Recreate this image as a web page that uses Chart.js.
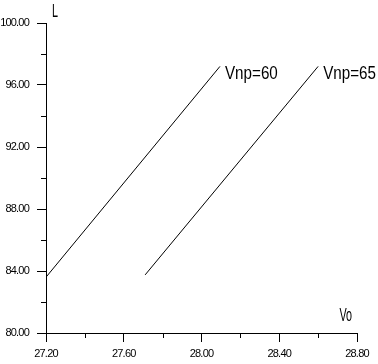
<!DOCTYPE html>
<html><head><meta charset="utf-8">
<script src="https://cdn.jsdelivr.net/npm/chart.js@4"></script>
<style>html,body{margin:0;padding:0;background:#fff}#wrap{width:378px;height:364px;position:relative}</style>
</head><body><div id="wrap"><canvas id="c"></canvas></div>
<script>
const seriesNames = ['Vnp=60', 'Vnp=65'];
const vnp60X = [27.2, 28.095];
const vnp60Y = [83.6, 97.2];
const vnp65X = [27.71, 28.6];
const vnp65Y = [83.75, 97.2];
const xTickLabels = ['27.20', '27.60', '28.00', '28.40', '28.80'];
const yTickLabels = ['80.00', '84.00', '88.00', '92.00', '96.00', '100.00'];
const xTitle = 'Vo';
const yTitle = 'L';

const FONT = '"Liberation Sans", Arial, sans-serif';

function pts(xs, ys) { return xs.map((x, i) => ({x: x, y: ys[i]})); }

function tight(chart) { chart.ctx.letterSpacing = '-0.8px'; }

function narrowText(ctx, text, x, y, sx, align) {
  ctx.save();
  ctx.translate(x, y);
  ctx.scale(sx, 1);
  ctx.textAlign = align;
  ctx.fillText(text, 0, 0);
  ctx.restore();
}

const extras = {
  id: 'extras',
  beforeUpdate: tight,
  beforeLayout: tight,
  beforeDraw: tight,
  afterDraw(chart) {
    const ctx = chart.ctx;
    const area = chart.chartArea;
    ctx.save();
    ctx.letterSpacing = '0px';
    // minor ticks
    ctx.strokeStyle = '#000';
    ctx.lineWidth = 1;
    const xs = chart.scales.x, ys = chart.scales.y;
    xs.ticks.forEach((t, i) => {
      if (i % 2 === 1) {
        const px = Math.round(xs.getPixelForValue(t.value)) + 0.5;
        ctx.beginPath(); ctx.moveTo(px, area.bottom); ctx.lineTo(px, area.bottom + 5); ctx.stroke();
      }
    });
    ys.ticks.forEach((t, i) => {
      if (i % 2 === 1) {
        const py = Math.round(ys.getPixelForValue(t.value)) + 0.5;
        ctx.beginPath(); ctx.moveTo(area.left - 5, py); ctx.lineTo(area.left, py); ctx.stroke();
      }
    });
    // series labels
    ctx.fillStyle = '#000';
    ctx.font = '19px ' + FONT;
    ctx.textBaseline = 'top';
    chart.data.datasets.forEach((ds, i) => {
      const meta = chart.getDatasetMeta(i);
      const last = meta.data[meta.data.length - 1];
      narrowText(ctx, seriesNames[i], last.x + 5, last.y - 2, 0.8, 'left');
    });
    // axis titles
    ctx.font = '18px ' + FONT;
    narrowText(ctx, yTitle, area.left + 6, area.top - 20, 0.6, 'left');
    narrowText(ctx, xTitle, area.right - 5, area.bottom - 26, 0.6, 'right');
    ctx.restore();
  }
};

new Chart(document.getElementById('c'), {
  type: 'scatter',
  data: {
    datasets: [
      {label: seriesNames[0], data: pts(vnp60X, vnp60Y), showLine: true, borderColor: '#000', borderWidth: 1, pointRadius: 0, fill: false},
      {label: seriesNames[1], data: pts(vnp65X, vnp65Y), showLine: true, borderColor: '#000', borderWidth: 1, pointRadius: 0, fill: false}
    ]
  },
  options: {
    responsive: true,
    maintainAspectRatio: false,
    animation: false,
    events: [],
    layout: {padding: {top: 23, right: 21, left: 0, bottom: 0}},
    plugins: {legend: {display: false}, tooltip: {enabled: false}},
    scales: {
      x: {
        type: 'linear', min: 27.2, max: 28.8,
        afterFit(s) { s.height = 31; },
        border: {display: true, color: '#000', width: 1},
        grid: {display: true, drawOnChartArea: false, drawTicks: true, tickLength: 9,
               tickColor: c => (c.index % 2 === 0 ? '#000' : 'rgba(0,0,0,0)'), tickWidth: 1},
        ticks: {stepSize: 0.2, autoSkip: false, maxRotation: 0, padding: 5, color: '#000',
                font: {family: FONT, size: 11},
                callback: (v, i) => (i % 2 === 0 ? xTickLabels[i / 2] : '')}
      },
      y: {
        type: 'linear', min: 80, max: 100,
        afterFit(s) { s.width = 46; },
        border: {display: true, color: '#000', width: 1},
        grid: {display: true, drawOnChartArea: false, drawTicks: true, tickLength: 9,
               tickColor: c => (c.index % 2 === 0 ? '#000' : 'rgba(0,0,0,0)'), tickWidth: 1},
        ticks: {stepSize: 2, autoSkip: false, padding: 8, color: '#000',
                font: {family: FONT, size: 11},
                callback: (v, i) => (i % 2 === 0 ? yTickLabels[i / 2] : '')}
      }
    }
  },
  plugins: [extras]
});
</script></body></html>
